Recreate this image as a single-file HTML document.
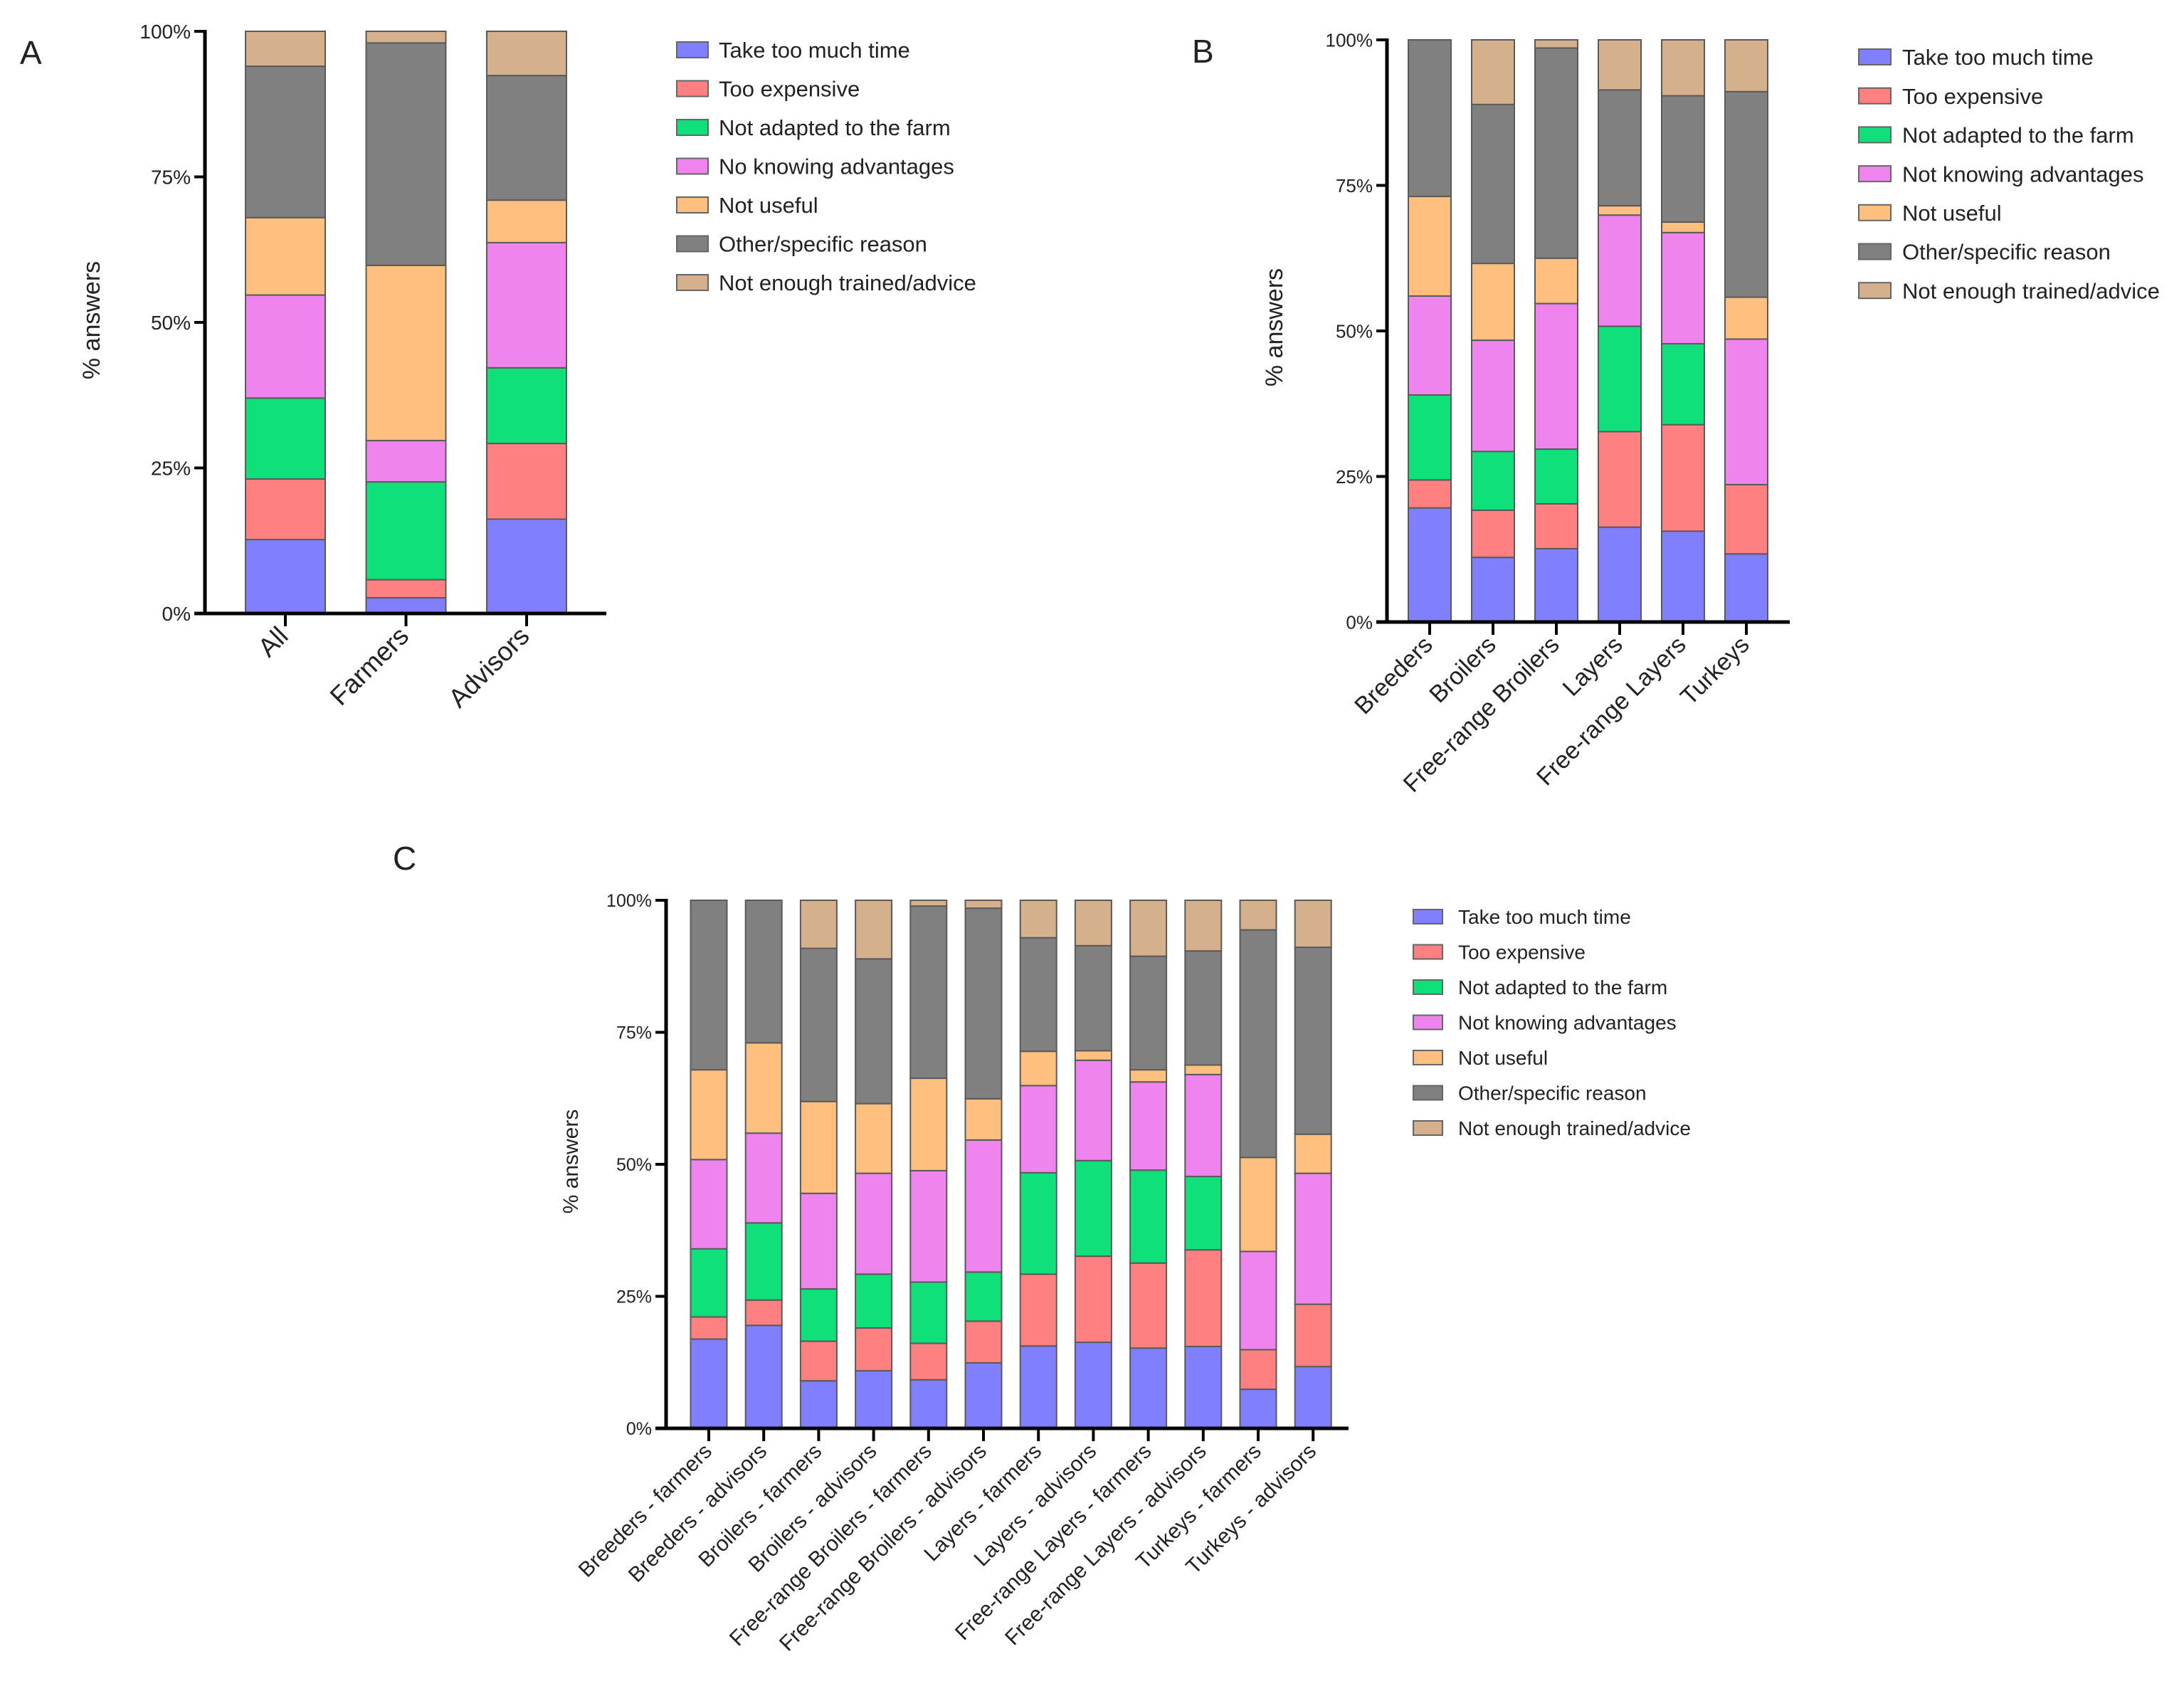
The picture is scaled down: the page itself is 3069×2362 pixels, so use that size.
<!DOCTYPE html>
<html><head><meta charset="utf-8"><style>
html,body{margin:0;padding:0;background:#fff;}
svg{display:block;font-family:"Liberation Sans",Arial,sans-serif;}
</style></head><body>
<svg id="fig" width="3069" height="2362" viewBox="0 0 3069 2362" xmlns="http://www.w3.org/2000/svg"></svg>
<script>
const seriesNamesA = ["Take too much time","Too expensive","Not adapted to the farm","No knowing advantages","Not useful","Other/specific reason","Not enough trained/advice"];
const seriesNamesBC = ["Take too much time","Too expensive","Not adapted to the farm","Not knowing advantages","Not useful","Other/specific reason","Not enough trained/advice"];
const colors = ["#8080ff","#ff8080","#10e07a","#ef84ef","#ffc07f","#808080","#d4b08c"];
const tickLabels = ["0%","25%","50%","75%","100%"];
const tickValues = [0,25,50,75,100];

const catsA = ["All","Farmers","Advisors"];
const valsA_time = [12.7,2.7,16.2];
const valsA_exp = [10.4,3.1,13.0];
const valsA_adapt = [13.9,16.8,13.0];
const valsA_know = [17.7,7.1,21.5];
const valsA_useful = [13.3,30.1,7.3];
const valsA_other = [26.0,38.2,21.4];
const valsA_train = [6.0,2.0,7.6];

const catsB = ["Breeders","Broilers","Free-range Broilers","Layers","Free-range Layers","Turkeys"];
const valsB_time = [19.6,11.1,12.6,16.3,15.6,11.7];
const valsB_exp = [4.8,8.1,7.7,16.4,18.3,11.9];
const valsB_adapt = [14.6,10.1,9.4,18.1,13.9,0];
const valsB_know = [17.0,19.1,25.0,19.1,19.1,25.0];
const valsB_useful = [17.1,13.2,7.8,1.6,1.8,7.2];
const valsB_other = [26.9,27.3,36.1,19.9,21.7,35.3];
const valsB_train = [0,11.1,1.4,8.6,9.6,8.9];

const catsC = ["Breeders - farmers","Breeders - advisors","Broilers - farmers","Broilers - advisors","Free-range Broilers - farmers","Free-range Broilers - advisors","Layers - farmers","Layers - advisors","Free-range Layers - farmers","Free-range Layers - advisors","Turkeys - farmers","Turkeys - advisors"];
const valsC_time = [16.9,19.5,9.0,10.9,9.2,12.4,15.6,16.3,15.2,15.5,7.4,11.7];
const valsC_exp = [4.2,4.8,7.5,8.1,6.9,7.9,13.6,16.3,16.1,18.3,7.5,11.8];
const valsC_adapt = [12.9,14.6,9.9,10.2,11.6,9.3,19.2,18.1,17.6,13.9,0,0];
const valsC_know = [16.9,17.0,18.1,19.1,21.1,25.0,16.5,19.0,16.7,19.3,18.6,24.8];
const valsC_useful = [17.0,17.1,17.4,13.2,17.5,7.8,6.5,1.8,2.3,1.8,17.8,7.4];
const valsC_other = [32.1,27.0,29.0,27.4,32.6,36.1,21.5,19.9,21.5,21.6,43.1,35.4];
const valsC_train = [0,0,9.1,11.1,1.1,1.5,7.1,8.6,10.6,9.6,5.6,8.9];

const NS="http://www.w3.org/2000/svg";
const svg=document.getElementById('fig');
function mk(tag,attrs,parent){const e=document.createElementNS(NS,tag);for(const k in attrs)e.setAttribute(k,attrs[k]);(parent||svg).appendChild(e);return e;}

function panel(p){
  const g=mk('g',{});
  
  
  const yS=v=>p.bottom-(v/100)*(p.bottom-p.top);
  const xS=i=>p.c0+i*p.step;
  const lt=mk('text',{x:p.lx,y:p.ly,'font-size':p.lfs,fill:'#222'},g);lt.textContent=p.id;
  
  
  for(let i=0;i<p.cats.length;i++){
    let acc=0;
    for(let s=0;s<p.series.length;s++){
      const v=p.series[s][i];
      if(v>0){
        const r=mk('rect',{x:xS(i)-p.bw/2,y:yS(acc+v),width:p.bw,height:yS(acc)-yS(acc+v),fill:colors[s],stroke:'#5a5a5a','stroke-width':2},g);
        
        
      }
      acc+=v;
    }
  }
  const ya=mk('line',{x1:p.ax,y1:p.top-2,x2:p.ax,y2:p.bottom+2,stroke:'#000','stroke-width':5},g);
  
  
  const xa=mk('line',{x1:p.ax-15,y1:p.bottom,x2:p.xEnd,y2:p.bottom,stroke:'#000','stroke-width':5},g);
  
  
  tickValues.forEach((v,k)=>{
    mk('line',{x1:p.ax-15,y1:yS(v),x2:p.ax,y2:yS(v),stroke:'#000','stroke-width':4},g);
    const t=mk('text',{x:p.ax-20,y:yS(v)+p.tfs*0.36,'font-size':p.tfs,'text-anchor':'end',fill:'#222'},g);
    t.textContent=tickLabels[k];
    
    
  });
  p.cats.forEach((c,i)=>{
    mk('line',{x1:xS(i),y1:p.bottom,x2:xS(i),y2:p.bottom+18,stroke:'#000','stroke-width':4},g);
    const tx=xS(i)+6, ty=p.bottom+34;
    const t=mk('text',{x:tx,y:ty,'font-size':p.xfs,'text-anchor':'end',fill:'#222',transform:`rotate(-45 ${tx} ${ty})`},g);
    t.textContent=c;
    
    
  });
  const yt=mk('text',{x:p.ytx,y:p.yty,'font-size':p.ytfs,'text-anchor':'middle',fill:'#222',transform:`rotate(-90 ${p.ytx} ${p.yty})`},g);
  yt.textContent='% answers';
  
  
  p.names.forEach((n,s)=>{
    const y=p.legY+s*p.legStep;
    const r=mk('rect',{x:p.legX,y:y-p.sqH/2,width:p.sqW,height:p.sqH,fill:colors[s],stroke:'#666','stroke-width':2},g);
    
    
    const t=mk('text',{x:p.legTX,y:y+p.legFs*0.36,'font-size':p.legFs,fill:'#222'},g);
    t.textContent=n;
    
    
  });
}

panel({id:'A',cats:catsA,series:[valsA_time,valsA_exp,valsA_adapt,valsA_know,valsA_useful,valsA_other,valsA_train],names:seriesNamesA,
  ax:288,top:44,bottom:862,xEnd:852,c0:401,step:169.5,bw:112,tfs:28,xfs:37,ytx:140,yty:450,ytfs:34,
  lx:28,ly:90,lfs:46,legX:951,legY:70,legStep:54.5,sqW:44,sqH:22,legTX:1010,legFs:31});
panel({id:'B',cats:catsB,series:[valsB_time,valsB_exp,valsB_adapt,valsB_know,valsB_useful,valsB_other,valsB_train],names:seriesNamesBC,
  ax:1949,top:56,bottom:874,xEnd:2515,c0:2009,step:89,bw:60,tfs:26,xfs:34,ytx:1802,yty:460,ytfs:34,
  lx:1675,ly:88,lfs:46,legX:2612,legY:80,legStep:54.7,sqW:45,sqH:22,legTX:2673,legFs:31});
panel({id:'C',cats:catsC,series:[valsC_time,valsC_exp,valsC_adapt,valsC_know,valsC_useful,valsC_other,valsC_train],names:seriesNamesBC,
  ax:936,top:1265,bottom:2007,xEnd:1895,c0:996,step:77.2,bw:51,tfs:25,xfs:30,ytx:812,yty:1632,ytfs:30,
  lx:552,ly:1222,lfs:46,legX:1986,legY:1288,legStep:49.5,sqW:41,sqH:20,legTX:2049,legFs:28});
</script>
</body></html>
